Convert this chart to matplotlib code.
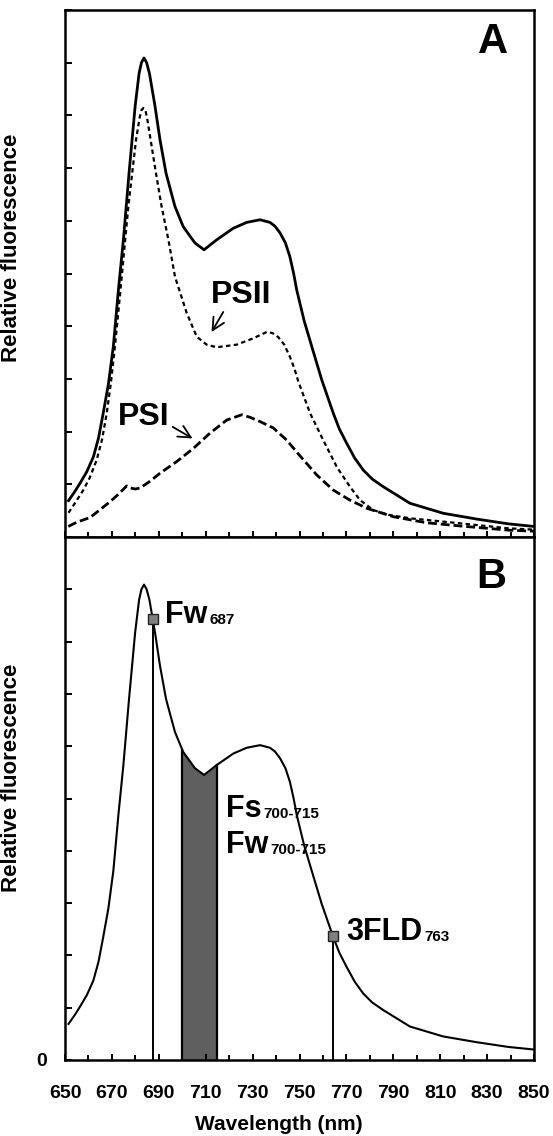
import numpy as np
import matplotlib
matplotlib.use("Agg")
import matplotlib.pyplot as plt
from matplotlib.ticker import MultipleLocator

plt.rcParams["font.family"] = ["Liberation Sans", "DejaVu Sans"]
plt.rcParams["font.weight"] = "bold"

# total fluorescence (solid line, panels A and B)
total_nm = [651.5, 654.0, 656.4, 659.3, 662.1, 664.3, 666.3, 668.5, 670.6, 672.8,
            674.9, 677.3, 679.9, 681.6, 682.6, 683.7, 684.8, 686.0, 688.4, 690.5,
            693.1, 696.9, 700.4, 705.4, 709.3, 714.7, 721.8, 727.5, 733.2, 737.4,
            739.5, 741.7, 744.0, 745.9, 747.5, 748.8, 752.0, 756.0, 759.5, 764.4,
            767.0, 770.1, 773.5, 777.2, 781.0, 785.7, 797.1, 811.3, 825.6, 839.0,
            850.0]
total_val = [0.69, 0.85, 1.02, 1.24, 1.52, 1.88, 2.35, 2.90, 3.61, 4.70,
             5.64, 6.90, 8.17, 8.80, 9.00, 9.09, 9.00, 8.80, 8.17, 7.54,
             6.90, 6.27, 5.89, 5.58, 5.45, 5.64, 5.86, 5.97, 6.02, 5.97,
             5.90, 5.77, 5.58, 5.32, 5.00, 4.69, 4.10, 3.50, 2.98, 2.35,
             2.05, 1.78, 1.50, 1.27, 1.10, 0.955, 0.64, 0.45, 0.34, 0.25,
             0.20]

# PSII contribution (dotted)
psii_nm = [651.5, 654.5, 657.8, 660.5, 663.5, 665.8, 667.8, 669.5, 671.3, 674.2,
           677.0, 680.3, 681.8, 682.6, 683.4, 684.3, 685.2, 686.5, 688.8, 691.2,
           694.1, 696.9, 701.9, 706.2, 710.4, 714.7, 723.2, 730.3, 736.0, 738.5,
           741.0, 743.5, 745.9, 747.8, 749.5, 754.5, 760.1, 765.9, 771.5, 775.8,
           781.5, 788.0, 797.1, 818.4, 839.0, 850.0]
psii_val = [0.46, 0.66, 0.89, 1.12, 1.46, 1.85, 2.35, 2.90, 3.61, 4.94,
            6.27, 7.54, 7.95, 8.10, 8.14, 8.10, 7.90, 7.54, 6.90, 6.27,
            5.64, 4.94, 4.25, 3.80, 3.65, 3.60, 3.65, 3.77, 3.89, 3.87,
            3.79, 3.65, 3.42, 3.20, 2.95, 2.35, 1.84, 1.33, 0.955, 0.70,
            0.51, 0.42, 0.355, 0.26, 0.165, 0.14]

# PSI contribution (dashed)
psi_nm = [651.4, 655.0, 660.7, 665.0, 669.2, 673.0, 676.3, 678.0, 680.0, 682.0,
          686.0, 690.5, 697.6, 704.7, 711.8, 719.0, 725.4, 729.0, 733.2, 738.8,
          744.5, 750.2, 757.3, 764.4, 771.5, 778.7, 790.0, 804.2, 818.4, 839.0,
          850.0]
psi_val = [0.20, 0.28, 0.37, 0.52, 0.67, 0.82, 0.97, 0.93, 0.91, 0.93,
           1.05, 1.21, 1.43, 1.68, 1.97, 2.22, 2.32, 2.27, 2.19, 2.07,
           1.84, 1.54, 1.18, 0.89, 0.70, 0.545, 0.385, 0.27, 0.21, 0.13,
           0.11]

# index positions (nm) used in panel B
fw_nm = 687.4
fld_nm = 764.2
band_nm = (700, 715)

x_ticks = list(range(650, 851, 20))
y_ticks = list(range(0, 11))

fig = plt.figure(figsize=(5.53, 11.36), dpi=100)
ax_a = fig.add_axes([65 / 553, 599 / 1136, 469 / 553, 527 / 1136])
ax_b = fig.add_axes([65 / 553, 76 / 1136, 469 / 553, 523 / 1136])

for ax in (ax_a, ax_b):
    ax.set_xlim(650, 850)
    ax.set_ylim(0, 10)
    for s in ax.spines.values():
        s.set_linewidth(1.8)
    ax.set_xticks(x_ticks)
    ax.xaxis.set_minor_locator(MultipleLocator(10))
    ax.set_yticks(y_ticks)
    ax.tick_params(axis="x", which="major", direction="in", length=4.5, width=1.4,
                   top=False, bottom=True)
    ax.tick_params(axis="x", which="minor", direction="in", length=3.5, width=1.4,
                   top=False, bottom=True)
    ax.tick_params(axis="y", which="major", direction="in", length=5, width=1.4,
                   left=True, right=False)

# Panel A
ax_a.plot(total_nm, total_val, color="black", lw=2.0, solid_joinstyle="round")
ax_a.plot(psii_nm, psii_val, color="black", lw=1.6, dashes=(2.0, 1.5),
          dash_joinstyle="round")
ax_a.plot(psi_nm, psi_val, color="black", lw=2.0, dashes=(3.2, 1.4),
          dash_joinstyle="round")
ax_a.set_xticklabels([])
ax_a.set_yticklabels([])

ax_a.text(725, 4.59, "PSII", fontsize=23, fontweight="bold", ha="center", va="center")
ax_a.annotate("", xy=(712.5, 3.89), xytext=(717.5, 4.27),
              arrowprops=dict(arrowstyle="->", lw=1.3, color="black",
                              mutation_scale=22, shrinkA=0, shrinkB=0))
ax_a.text(683.5, 2.28, "PSI", fontsize=23, fontweight="bold", ha="center", va="center")
ax_a.annotate("", xy=(704.4, 1.87), xytext=(695.9, 2.09),
              arrowprops=dict(arrowstyle="->", lw=1.3, color="black",
                              mutation_scale=22, shrinkA=0, shrinkB=0))
ax_a.text(0.913, 0.939, "A", transform=ax_a.transAxes, fontsize=30,
          fontweight="bold", ha="center", va="center")
ax_a.set_ylabel("Relative fluorescence", fontsize=16, fontweight="bold")
ax_a.yaxis.set_label_coords(-0.092, 0.549)

# Panel B
ax_b.plot(total_nm, total_val, color="black", lw=1.5, solid_joinstyle="round")

fx = np.array(total_nm)
fy = np.array(total_val)
band_x = np.concatenate(([band_nm[0]], fx[(fx > band_nm[0]) & (fx < band_nm[1])], [band_nm[1]]))
band_y = np.interp(band_x, fx, fy)
ax_b.fill_between(band_x, 0, band_y, color="#5f5f5f", lw=0)
for bx in band_nm:
    ax_b.plot([bx, bx], [0, np.interp(bx, fx, fy)], color="black", lw=1.6)

for mx in (fw_nm, fld_nm):
    my = np.interp(mx, fx, fy)
    ax_b.plot([mx, mx], [0, my], color="black", lw=1.4)
    ax_b.plot(mx, my, marker="s", ms=7.5, mfc="#7f7f7f", mec="#222222", mew=1.0)


def label_with_sub(ax, x, y, main, sub):
    t = ax.text(x, y, main, fontsize=22, fontweight="bold", ha="left", va="baseline")
    ax.annotate(sub, xy=(1, 0), xycoords=t, xytext=(1.5, 2.3),
                textcoords="offset points", fontsize=11, fontweight="bold",
                ha="left", va="bottom")


label_with_sub(ax_b, 692.6, 8.36, "Fw", "687")
label_with_sub(ax_b, 718.5, 4.65, "Fs", "700-715")
label_with_sub(ax_b, 718.5, 3.95, "Fw", "700-715")
label_with_sub(ax_b, 770.1, 2.29, "3FLD", "763")

ax_b.text(0.908, 0.923, "B", transform=ax_b.transAxes, fontsize=30,
          fontweight="bold", ha="center", va="center")

ax_b.set_xticklabels([str(v) for v in x_ticks], fontsize=14, fontweight="bold")
ax_b.tick_params(axis="x", which="major", pad=18)
ax_b.set_yticklabels(["0"] + [""] * 10, fontsize=14, fontweight="bold")
ax_b.tick_params(axis="y", pad=13)

ax_b.set_xlabel("Wavelength (nm)", fontsize=15, fontweight="bold")
ax_b.xaxis.set_label_coords(0.455, -64 / 523)
ax_b.xaxis.label.set_va("center")
ax_b.set_ylabel("Relative fluorescence", fontsize=16, fontweight="bold")
ax_b.yaxis.set_label_coords(-0.092, 0.540)

fig.savefig("out.png", dpi=100)
